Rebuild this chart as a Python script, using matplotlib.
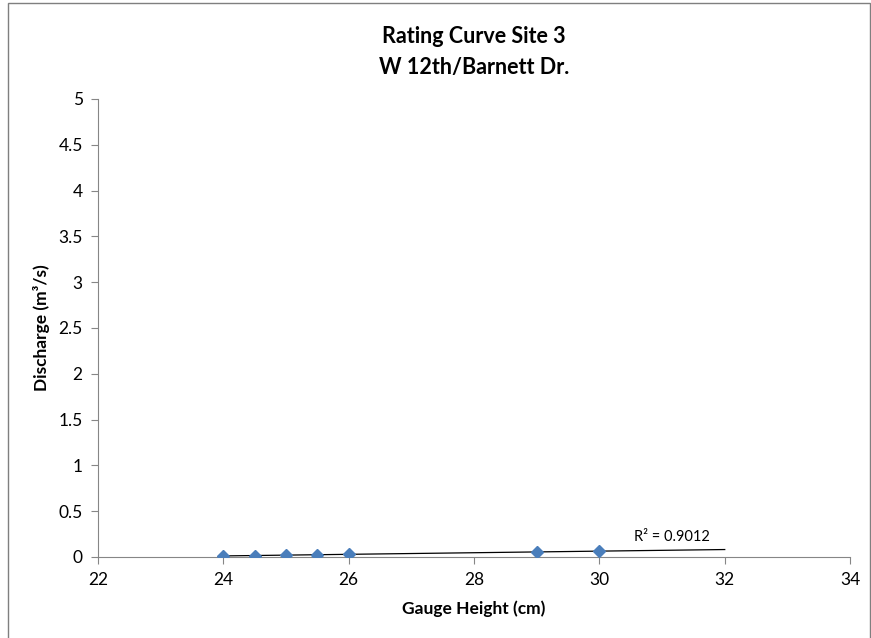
import matplotlib.pyplot as plt
import numpy as np

# gauge height (cm) vs measured discharge (m^3/s)
gauge_height = [24, 24.5, 25, 25.5, 26, 29, 30]
discharge = [0.012, 0.015, 0.022, 0.025, 0.028, 0.050, 0.068]
r2_text = "R² = 0.9012"

plt.rcParams['font.family'] = ['Lato', 'DejaVu Sans']

fig = plt.figure(figsize=(8.71, 6.38), dpi=100)
fig.patches.append(plt.Rectangle((0.009, -0.01), 0.99, 1.005, transform=fig.transFigure,
                                 fill=False, edgecolor='#7f7f7f', linewidth=1.0))
ax = fig.add_axes([0.1125, 0.127, 0.8635, 0.718])

ax.plot(gauge_height, discharge, linestyle='none', marker='D', markersize=6,
        color='#4a7ebb', zorder=3)

# linear trendline out to 32
coef = np.polyfit(gauge_height, discharge, 1)
xt = np.array([24, 32])
ax.plot(xt, np.polyval(coef, xt), color='black', linewidth=0.9, zorder=2)
ax.text(30.55, np.polyval(coef, 31.2) + 0.1, r2_text, fontsize=10.5)

ax.set_xlim(22, 34)
ax.set_ylim(0, 5)
ax.set_xticks(np.arange(22, 35, 2))
ax.set_yticks(np.arange(0, 5.01, 0.5))
ax.set_yticklabels(['0', '0.5', '1', '1.5', '2', '2.5', '3', '3.5', '4', '4.5', '5'])

for s in ['top', 'right']:
    ax.spines[s].set_visible(False)
for s in ['left', 'bottom']:
    ax.spines[s].set_color('#868686')
ax.tick_params(direction='out', length=5, color='#868686', labelsize=12.5, pad=6)

ax.set_xlabel('Gauge Height (cm)', fontsize=12.5, fontweight='bold', labelpad=9)
ax.set_ylabel('Discharge (m³/s)', fontsize=12.5, fontweight='bold', labelpad=6)
ax.set_title('Rating Curve Site 3\nW 12th/Barnett Dr.', fontsize=15.5, fontweight='bold',
             linespacing=1.6, pad=18)

fig.savefig('out.png', dpi=100)
